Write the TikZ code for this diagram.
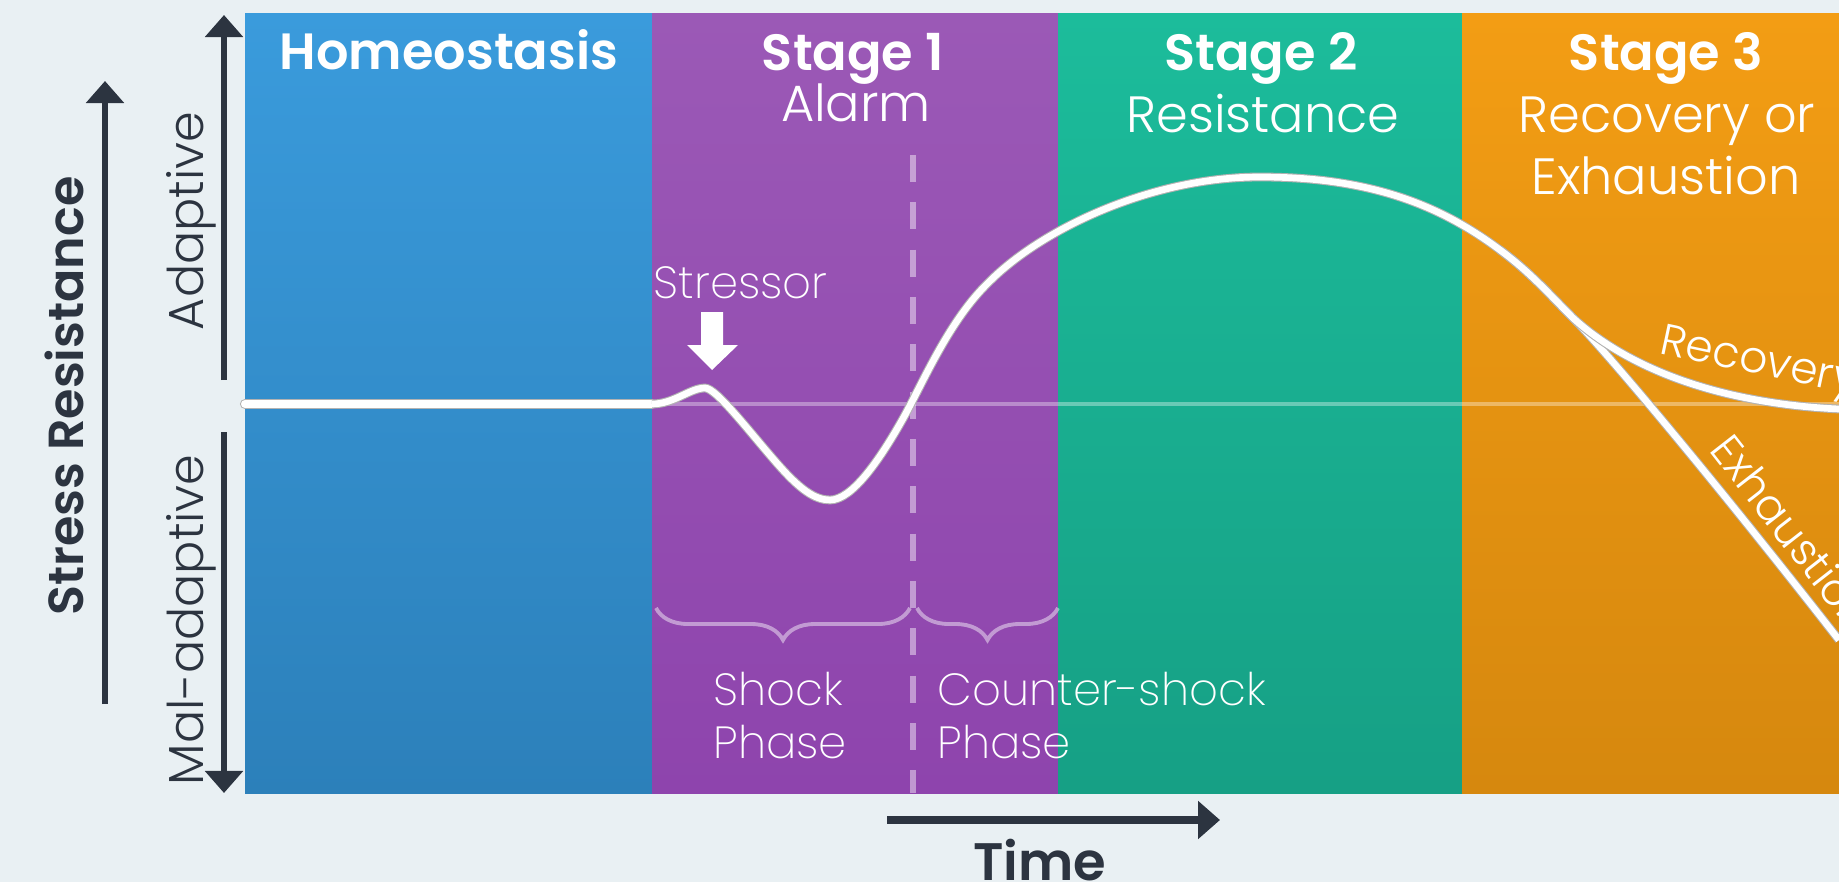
\documentclass[tikz,border=0pt]{standalone}
\usepackage{fontspec}
\setmainfont{Poppins}[BoldFont=Poppins SemiBold]
\newfontfamily\lightfont{Poppins Light}
\newfontfamily\thinfont{Poppins ExtraLight}
\usetikzlibrary{arrows.meta}
\usetikzlibrary{decorations.pathreplacing}
\definecolor{bgpaper}{RGB}{233,240,243}
\definecolor{axisdark}{RGB}{44,52,64}
\definecolor{homeotop}{RGB}{58,155,220}
\definecolor{homeobot}{RGB}{44,128,186}
\definecolor{alarmtop}{RGB}{155,89,182}
\definecolor{alarmbot}{RGB}{142,68,173}
\definecolor{resisttop}{RGB}{28,188,155}
\definecolor{resistbot}{RGB}{22,160,133}
\definecolor{exhausttop}{RGB}{243,157,20}
\definecolor{exhaustbot}{RGB}{214,136,14}
\tikzset{
    stagetitle/.style = {text=white, font=\bfseries\fontsize{14.5}{17}\selectfont, anchor=base, inner sep=0pt},
    stagename/.style = {text=white, font=\lightfont\fontsize{14.5}{17}\selectfont, anchor=base, inner sep=0pt},
    phaselabel/.style = {text=white, font=\thinfont\fontsize{12.8}{15}\selectfont, anchor=base west, inner sep=0pt},
    curvelabel/.style = {text=white, font=\lightfont\fontsize{12.5}{15}\selectfont, anchor=base west, inner sep=0pt},
    axislabel/.style = {text=axisdark, font=\lightfont\fontsize{14}{16}\selectfont, rotate=90, anchor=base, inner sep=0pt},
    axisarrow/.style = {draw=axisdark, line width=1.8pt, -{Triangle[width=0.37cm,length=0.22cm]}},
    lifeline/.style = {draw=black!30, line width=0.3pt, double=white, double distance=1.9pt, line join=round},
    phasebrace/.style = {draw=white, draw opacity=0.45, line width=1.1pt, decorate, decoration={brace, mirror, amplitude=0.32cm}}}

\begin{document}
\begin{tikzpicture}[x=0.01cm, y=-0.01cm]
    \useasboundingbox (0,0) rectangle (1839,882);
    \fill[bgpaper] (0,0) rectangle (1839,882);
    \shade[top color=homeotop, bottom color=homeobot] (245,14) rectangle (652,793);
    \shade[top color=alarmtop, bottom color=alarmbot] (652,14) rectangle (1058,793);
    \shade[top color=resisttop, bottom color=resistbot] (1058,14) rectangle (1462,793);
    \shade[top color=exhausttop, bottom color=exhaustbot] (1462,14) rectangle (1839,793);
    \draw[white, opacity=0.35, line width=1pt] (245,404) -- (1839,404);
    \path (913,155) coordinate (splittop) (913,793) coordinate (splitbot)
        (656,608) coordinate (shockL) (910,608) coordinate (shockR)
        (917,608) coordinate (counterL) (1058,608) coordinate (counterR);
    \draw[white, opacity=0.45, line width=1.7pt, dash pattern=on 0.27cm off 0.203cm] (splittop) -- (splitbot);
    \draw[phasebrace] (shockL) -- (shockR);
    \draw[phasebrace] (counterL) -- (counterR);
    \node[stagetitle] (homeo) at (449,70) {Homeostasis};
    \node[stagetitle] (stage1) at (853,71) {Stage 1};
    \node[stagename] (alarm) at (856,122) {Alarm};
    \node[stagetitle] (stage2) at (1261,71) {Stage 2};
    \node[stagename] (resist) at (1263,133) {Resistance};
    \node[stagetitle] (stage3) at (1666,71) {Stage 3};
    \node[stagename] (recovor) at (1667,133) {Recovery or};
    \node[stagename] (exhaust) at (1666,195) {Exhaustion};
    \node[phaselabel] (stressor) at (653,298) {Stressor};
    \fill[white] (701,312) -- (723,312) -- (723,345) -- (738,345) -- (712,370) -- (687,345) -- (701,345) -- cycle;
    \node[phaselabel] (shock) at (713,705) {Shock};
    \node[phaselabel] (shockph) at (713,758) {Phase};
    \node[phaselabel] (counter) at (937,705) {Counter-shock};
    \node[phaselabel] (counterph) at (937,758) {Phase};
    \draw[lifeline, double distance=2.3pt, line cap=round] (245,404) -- (652,404);
    \draw[lifeline] (1500,250) .. controls (1530,272) and (1550,295) .. (1573,318)
        .. controls (1600,345) and (1700,462) .. (1839,640);
    \draw[lifeline] (652,404) .. controls (674,404) and (690,388) .. (705,388)
        .. controls (716,388) and (748,430) .. (775,461)
        .. controls (800,490) and (815,500) .. (830,500)
        .. controls (852,500) and (880,460) .. (905,415)
        .. controls (925,378) and (950,320) .. (988,283)
        .. controls (1040,230) and (1150,177) .. (1260,177)
        .. controls (1370,177) and (1440,205) .. (1500,250)
        .. controls (1530,272) and (1550,295) .. (1573,318)
        .. controls (1610,352) and (1690,402) .. (1839,409);
    \node[curvelabel, rotate=-12] (recovery) at (1658,353) {Recovery};
    \node[curvelabel, rotate=-52] (exhaustion) at (1708,450) {Exhaustion};
    \path (105,704) coordinate (stressbot) (105,81) coordinate (stresstop)
        (224,380) coordinate (adaptbot) (224,15) coordinate (adapttop)
        (224,432) coordinate (maltop) (224,793) coordinate (malbot)
        (887,820) coordinate (timestart) (1220,820) coordinate (timeend);
    \draw[axisarrow] (stressbot) -- (stresstop);
    \draw[axisarrow] (adaptbot) -- (adapttop);
    \draw[axisarrow] (maltop) -- (malbot);
    \draw[axisarrow, line width=2pt] (timestart) -- (timeend);
    \node[axislabel, font=\bfseries\fontsize{14}{16}\selectfont] (stressres) at (83,396) {Stress Resistance};
    \node[axislabel] (adaptive) at (203,221) {Adaptive};
    \node[axislabel] (maladaptive) at (203,620) {Mal-adaptive};
    \node[text=axisdark, font=\bfseries\fontsize{15}{17}\selectfont, anchor=base, inner sep=0pt] (time) at (1040,880) {Time};
\end{tikzpicture}
\end{document}
